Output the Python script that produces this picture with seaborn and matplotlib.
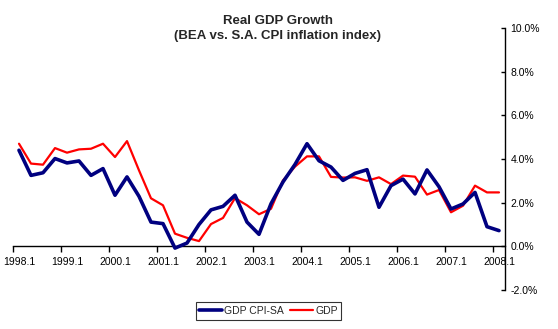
import numpy as np
import pandas as pd
import matplotlib
matplotlib.use("Agg")
import matplotlib.pyplot as plt
import seaborn as sns
from matplotlib.ticker import FixedLocator, FuncFormatter

quarters = [f"{y}.{q}" for y in range(1998, 2008) for q in range(1, 5)] + ["2008.1"]

gdp_cpi_sa = [4.40, 3.25, 3.37, 4.02, 3.82, 3.91, 3.25, 3.56, 2.34, 3.18,
              2.29, 1.11, 1.04, -0.08, 0.15, 1.00, 1.67, 1.83, 2.34, 1.11,
              0.55, 1.95, 2.95, 3.75, 4.70, 3.92, 3.63, 3.02, 3.34, 3.51,
              1.79, 2.78, 3.08, 2.40, 3.50, 2.73, 1.71, 1.94, 2.47, 0.90, 0.72]

gdp = [4.70, 3.79, 3.74, 4.50, 4.29, 4.44, 4.47, 4.70, 4.09, 4.82,
       3.48, 2.20, 1.88, 0.58, 0.39, 0.24, 1.02, 1.30, 2.21, 1.88,
       1.47, 1.72, 3.02, 3.65, 4.12, 4.12, 3.18, 3.15, 3.16, 3.00,
       3.16, 2.85, 3.24, 3.19, 2.37, 2.58, 1.56, 1.86, 2.78, 2.47, 2.47]

series_names = ["GDP CPI-SA", "GDP"]
y_ticks = [-2, 0, 2, 4, 6, 8, 10]

sns.set_style("white")
plt.rcParams["font.family"] = ["Liberation Sans", "DejaVu Sans"]

W, H = 558, 329
fig = plt.figure(figsize=(W / 100, H / 100), dpi=100)
ax = fig.add_axes([13 / W, (H - 290) / H, (505 - 13) / W, (290 - 28) / H])

n = len(quarters)
pos = np.arange(n) + 0.5
df = pd.DataFrame({
    "pos": np.concatenate([pos, pos]),
    "val": gdp_cpi_sa + gdp,
    "series": [series_names[0]] * n + [series_names[1]] * n,
})

palette = {"GDP CPI-SA": "#000080", "GDP": "#FF0000"}
sns.lineplot(data=df[df.series == "GDP"], x="pos", y="val", color=palette["GDP"],
             linewidth=1.6, ax=ax, label="GDP", zorder=2)
sns.lineplot(data=df[df.series == "GDP CPI-SA"], x="pos", y="val",
             color=palette["GDP CPI-SA"], linewidth=2.6, ax=ax,
             label="GDP CPI-SA", zorder=3)

ax.set_xlim(0, n)
ax.set_ylim(-2, 10)
ax.set_xlabel("")
ax.set_ylabel("")

for s in ["left", "top"]:
    ax.spines[s].set_visible(False)
ax.spines["bottom"].set_position(("data", 0))
ax.spines["bottom"].set_color("black")
ax.spines["bottom"].set_linewidth(1.0)
ax.spines["right"].set_color("black")
ax.spines["right"].set_linewidth(1.0)

ax.yaxis.tick_right()
ax.set_yticks(y_ticks)
ax.yaxis.set_major_formatter(FuncFormatter(lambda v, p: f"{v:.1f}%"))
ax.tick_params(axis="y", which="major", direction="in", length=3, width=1,
               labelsize=7.5, pad=4, colors="black", right=True, left=False)

major_pos = list(range(0, n, 4))
ax.xaxis.set_major_locator(FixedLocator(major_pos))
ax.xaxis.set_major_formatter(FuncFormatter(lambda v, p: ""))
label_pos = [p + 0.5 for p in major_pos]
ax.xaxis.set_minor_locator(FixedLocator(label_pos))
ax.xaxis.set_minor_formatter(FuncFormatter(lambda v, p: quarters[int(v)]))
ax.tick_params(axis="x", which="major", direction="out", length=4, width=1,
               bottom=True, colors="black")
ax.tick_params(axis="x", which="minor", length=0, labelsize=7.5, pad=8,
               bottom=True, colors="black")
ax.grid(False)

fig.text(278 / W, 1 - 21 / H, "Real GDP Growth", ha="center", va="center",
         fontsize=9.5, fontweight="bold")
fig.text(278 / W, 1 - 36 / H, "(BEA vs. S.A. CPI inflation index)", ha="center",
         va="center", fontsize=9.5, fontweight="bold")

handles, labels = ax.get_legend_handles_labels()
order = [labels.index("GDP CPI-SA"), labels.index("GDP")]
leg = ax.legend([handles[i] for i in order], [labels[i] for i in order],
                loc="center", bbox_to_anchor=(268.5 / W, 1 - 311 / H),
                bbox_transform=fig.transFigure, ncol=2, frameon=True,
                fancybox=False, edgecolor="black", fontsize=7.5,
                handlelength=2.2, handletextpad=0.2, columnspacing=0.6,
                borderpad=0.35)
leg.get_frame().set_linewidth(0.8)

fig.savefig("out.png", dpi=100)
